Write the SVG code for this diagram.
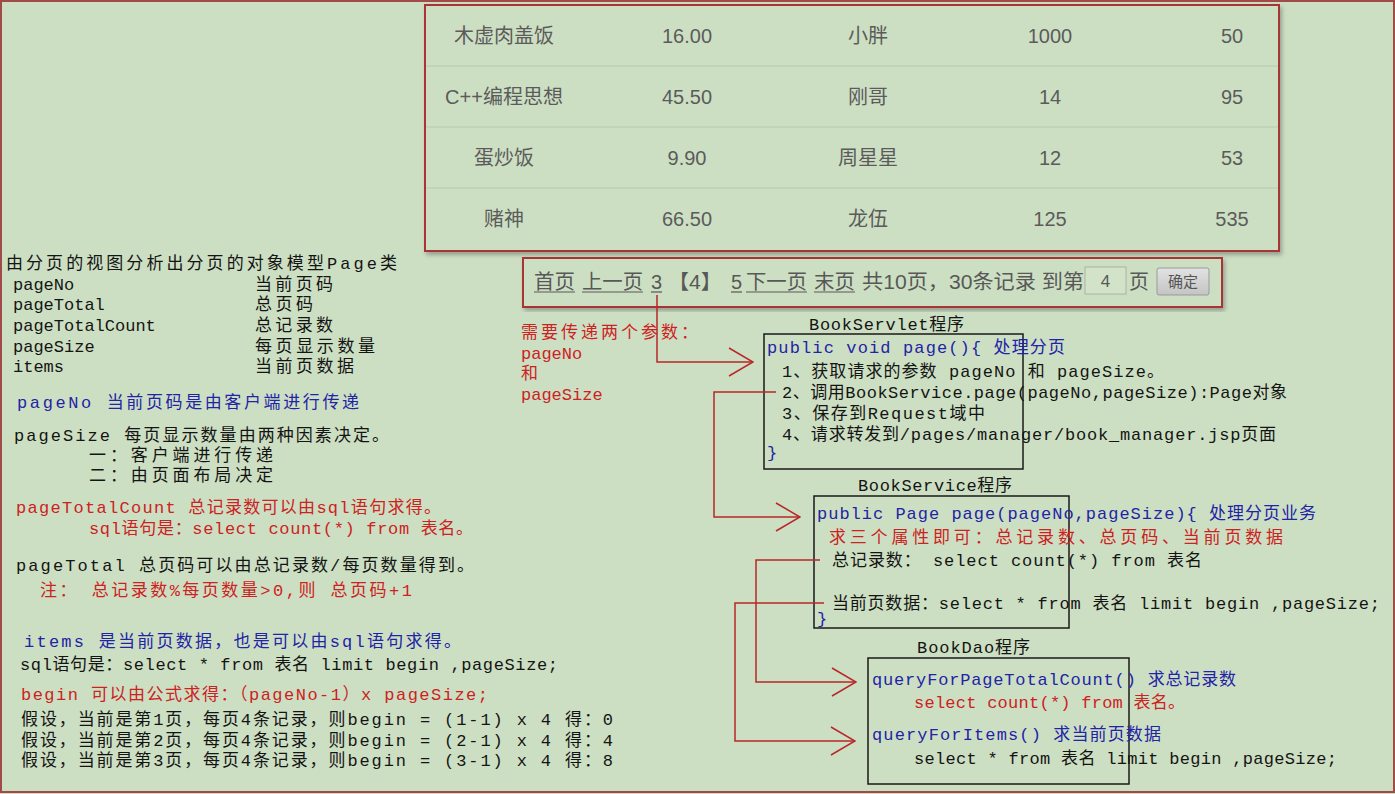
<svg xmlns="http://www.w3.org/2000/svg" width="1395" height="794" viewBox="0 0 1395 794">
<style>
.m{font-family:"Liberation Mono","Noto Sans CJK SC",monospace;font-size:17px}
.k{fill:#141414}.r{fill:#cc2222}.b{fill:#2323a6}
.t{font-family:"Liberation Sans","Noto Sans CJK SC",sans-serif;font-size:20px;fill:#5b5b5b;text-anchor:middle}
.p{font-family:"Liberation Sans","Noto Sans CJK SC",sans-serif;font-size:20px;fill:#585858}
.frame{fill:#cddfc3;stroke:#a83434;stroke-width:2}
.box{fill:none;stroke:#1a1a1a;stroke-width:1.5}
.sep{stroke:#b9c7b0;stroke-width:1}
.ul{stroke:#585858;stroke-width:1.2}
.c{fill:none;stroke:#b8282a;stroke-width:1.5}
</style>
<defs>
<filter id="sh" x="-5%" y="-5%" width="110%" height="115%">
<feDropShadow dx="2" dy="3" stdDeviation="2" flood-color="#555" flood-opacity="0.45"/>
</filter>
<linearGradient id="btn" x1="0" y1="0" x2="0" y2="1">
<stop offset="0" stop-color="#e2e2e2"/><stop offset="1" stop-color="#c4c4c4"/>
</linearGradient>
<marker id="ar" viewBox="0 0 26 30" refX="25" refY="15" markerWidth="26" markerHeight="30" markerUnits="userSpaceOnUse" orient="auto">
<path d="M1,1 L25,15 L1,29" fill="none" stroke="#b8282a" stroke-width="1.5"/>
</marker>
</defs>
<rect x="0" y="0" width="1395" height="794" fill="#cddfc3"/>
<rect x="1" y="1" width="1393" height="791" fill="none" stroke="#a04a4a" stroke-width="2"/>

<g id="book-table">
<rect class="frame" x="425" y="5" width="854" height="246" filter="url(#sh)"/>
<line class="sep" x1="426" y1="66" x2="1278" y2="66"/>
<line class="sep" x1="426" y1="127" x2="1278" y2="127"/>
<line class="sep" x1="426" y1="188" x2="1278" y2="188"/>
<text class="t" x="504" y="43">木虚肉盖饭</text><text class="t" x="687" y="43">16.00</text><text class="t" x="868" y="43">小胖</text><text class="t" x="1050" y="43">1000</text><text class="t" x="1232" y="43">50</text>
<text class="t" x="504" y="104">C++编程思想</text><text class="t" x="687" y="104">45.50</text><text class="t" x="868" y="104">刚哥</text><text class="t" x="1050" y="104">14</text><text class="t" x="1232" y="104">95</text>
<text class="t" x="504" y="165">蛋炒饭</text><text class="t" x="687" y="165">9.90</text><text class="t" x="868" y="165">周星星</text><text class="t" x="1050" y="165">12</text><text class="t" x="1232" y="165">53</text>
<text class="t" x="504" y="226">赌神</text><text class="t" x="687" y="226">66.50</text><text class="t" x="868" y="226">龙伍</text><text class="t" x="1050" y="226">125</text><text class="t" x="1232" y="226">535</text>
</g>

<g id="pagination">
<rect class="frame" x="523" y="258" width="699" height="49" filter="url(#sh)"/>
<text class="p" x="534" y="289" textLength="41" lengthAdjust="spacingAndGlyphs">首页</text>
<text class="p" x="582" y="289" textLength="61" lengthAdjust="spacingAndGlyphs">上一页</text>
<text class="p" x="651" y="289">3</text>
<text class="p" x="668" y="289" textLength="54" lengthAdjust="spacingAndGlyphs">【4】</text>
<text class="p" x="731" y="289">5</text>
<text class="p" x="746" y="289" textLength="61" lengthAdjust="spacingAndGlyphs">下一页</text>
<text class="p" x="814" y="289" textLength="41" lengthAdjust="spacingAndGlyphs">末页</text>
<text class="p" x="862" y="289" textLength="222" lengthAdjust="spacingAndGlyphs">共10页，30条记录 到第</text>
<line class="ul" x1="534" y1="292" x2="575" y2="292"/>
<line class="ul" x1="582" y1="292" x2="643" y2="292"/>
<line class="ul" x1="651" y1="292" x2="662" y2="292"/>
<line class="ul" x1="731" y1="292" x2="742" y2="292"/>
<line class="ul" x1="746" y1="292" x2="807" y2="292"/>
<line class="ul" x1="814" y1="292" x2="855" y2="292"/>
<rect x="1085" y="267" width="41" height="27" fill="#d3e3ca" stroke="#a9b3a3" stroke-width="1"/>
<text class="p" x="1105.5" y="287" style="font-size:17px;text-anchor:middle">4</text>
<text class="p" x="1129" y="289">页</text>
<rect x="1157" y="268" width="52" height="27" rx="2" fill="url(#btn)" stroke="#999" stroke-width="1"/>
<text class="p" x="1183" y="287" style="font-size:15px;text-anchor:middle;fill:#555">确定</text>
</g>

<g id="page-model">
<text class="m k" x="6" y="269" textLength="391" lengthAdjust="spacing">由分页的视图分析出分页的对象模型Page类</text>
<text class="m k" x="13" y="290">pageNo</text><text class="m k" x="255" y="290" textLength="78" lengthAdjust="spacing">当前页码</text>
<text class="m k" x="13" y="310">pageTotal</text><text class="m k" x="255" y="310" textLength="58" lengthAdjust="spacing">总页码</text>
<text class="m k" x="13" y="331">pageTotalCount</text><text class="m k" x="255" y="331" textLength="78" lengthAdjust="spacing">总记录数</text>
<text class="m k" x="13" y="352">pageSize</text><text class="m k" x="255" y="352" textLength="120" lengthAdjust="spacing">每页显示数量</text>
<text class="m k" x="13" y="372">items</text><text class="m k" x="255" y="372" textLength="99" lengthAdjust="spacing">当前页数据</text>
<text class="m b" x="17" y="408" textLength="342" lengthAdjust="spacing">pageNo 当前页码是由客户端进行传递</text>
<text class="m k" x="14" y="441" textLength="375" lengthAdjust="spacing">pageSize 每页显示数量由两种因素决定。</text>
<text class="m k" x="89" y="461" textLength="184" lengthAdjust="spacing">一：客户端进行传递</text>
<text class="m k" x="89" y="481" textLength="184" lengthAdjust="spacing">二：由页面布局决定</text>
<text class="m r" x="16" y="513" textLength="425" lengthAdjust="spacing">pageTotalCount 总记录数可以由sql语句求得。</text>
<text class="m r" x="89" y="534" textLength="384" lengthAdjust="spacing">sql语句是：select count(*) from 表名。</text>
<text class="m k" x="16" y="571" textLength="458" lengthAdjust="spacing">pageTotal 总页码可以由总记录数/每页数量得到。</text>
<text class="m r" x="40" y="596" textLength="372" lengthAdjust="spacing">注： 总记录数%每页数量&gt;0,则 总页码+1</text>
<text class="m b" x="24" y="647" textLength="437" lengthAdjust="spacing">items 是当前页数据，也是可以由sql语句求得。</text>
<text class="m k" x="20" y="670" textLength="538" lengthAdjust="spacing">sql语句是：select * from 表名 limit begin ,pageSize;</text>
<text class="m r" x="21" y="700" textLength="467" lengthAdjust="spacing">begin 可以由公式求得：（pageNo-1）x pageSize;</text>
<text class="m k" x="21" y="725" textLength="592" lengthAdjust="spacing">假设，当前是第1页，每页4条记录，则begin = (1-1) x 4 得：0</text>
<text class="m k" x="21" y="746" textLength="592" lengthAdjust="spacing">假设，当前是第2页，每页4条记录，则begin = (2-1) x 4 得：4</text>
<text class="m k" x="21" y="766" textLength="592" lengthAdjust="spacing">假设，当前是第3页，每页4条记录，则begin = (3-1) x 4 得：8</text>
</g>

<g id="params-note">
<text class="m r" x="521" y="338" textLength="177" lengthAdjust="spacing">需要传递两个参数：</text>
<text class="m r" x="521" y="359">pageNo</text>
<text class="m r" x="521" y="379">和</text>
<text class="m r" x="521" y="400">pageSize</text>
</g>

<g id="book-servlet">
<text class="m k" x="809" y="330" textLength="155" lengthAdjust="spacing">BookServlet程序</text>
<rect class="box" x="764" y="334" width="259" height="135"/>
<text class="m b" x="767" y="353" textLength="298" lengthAdjust="spacing">public void page(){  处理分页</text>
<text class="m k" x="782" y="377" textLength="382" lengthAdjust="spacing">1、获取请求的参数 pageNo 和 pageSize。</text>
<text class="m k" x="782" y="398" textLength="505" lengthAdjust="spacing">2、调用BookService.page(pageNo,pageSize):Page对象</text>
<text class="m k" x="782" y="419" textLength="203" lengthAdjust="spacing">3、保存到Request域中</text>
<text class="m k" x="782" y="440" textLength="494" lengthAdjust="spacing">4、请求转发到/pages/manager/book_manager.jsp页面</text>
<text class="m b" x="767" y="458">}</text>
</g>

<g id="book-service">
<text class="m k" x="858" y="491" textLength="154" lengthAdjust="spacing">BookService程序</text>
<rect class="box" x="814" y="496" width="255" height="132"/>
<text class="m b" x="817" y="519" textLength="499" lengthAdjust="spacing">public Page page(pageNo,pageSize){  处理分页业务</text>
<text class="m r" x="829" y="543" textLength="454" lengthAdjust="spacing">求三个属性即可：总记录数、总页码、当前页数据</text>
<text class="m k" x="832" y="566" textLength="370" lengthAdjust="spacing">总记录数：  select count(*) from 表名</text>
<text class="m k" x="832" y="609" textLength="548" lengthAdjust="spacing">当前页数据：select * from 表名 limit begin ,pageSize;</text>
<text class="m b" x="817" y="624">}</text>
</g>

<g id="book-dao">
<text class="m k" x="917" y="653" textLength="113" lengthAdjust="spacing">BookDao程序</text>
<rect class="box" x="868" y="658" width="261" height="126"/>
<text class="m b" x="872" y="685" textLength="364" lengthAdjust="spacing">queryForPageTotalCount() 求总记录数</text>
<text class="m r" x="914" y="708" textLength="271" lengthAdjust="spacing">select count(*) from 表名。</text>
<text class="m b" x="872" y="740" textLength="289" lengthAdjust="spacing">queryForItems() 求当前页数据</text>
<text class="m k" x="914" y="764" textLength="423" lengthAdjust="spacing">select * from 表名 limit begin ,pageSize;</text>
</g>

<g id="connectors">
<polyline class="c" points="657,295 657,362 753,362" marker-end="url(#ar)"/>
<polyline class="c" points="776,392 714,392 714,517 800,517" marker-end="url(#ar)"/>
<polyline class="c" points="820,560 756,560 756,682 856,682" marker-end="url(#ar)"/>
<polyline class="c" points="824,603 735,603 735,741 855,741" marker-end="url(#ar)"/>
</g>
</svg>
